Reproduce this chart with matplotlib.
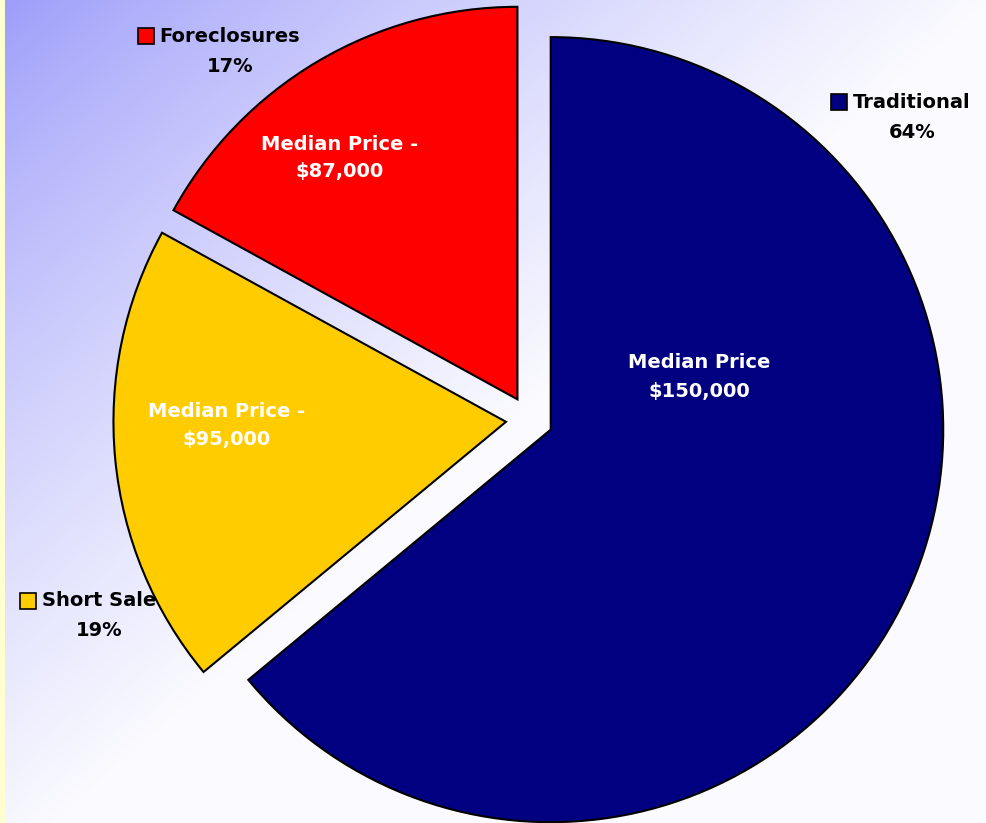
import numpy as np
import matplotlib
matplotlib.use("Agg")
import matplotlib.pyplot as plt
from matplotlib.patches import Rectangle

# ---- data ----
categories = ["Traditional", "Short Sale", "Foreclosures"]
shares = [64, 19, 17]
pct_labels = ["64%", "19%", "17%"]
inner_labels = ["Median Price\n$150,000", "Median Price -\n$95,000", "Median Price -\n$87,000"]
colors = ["#000080", "#FFCC00", "#FF0000"]

W, H = 987, 823
FONT = ["DejaVu Sans"]
FS = 14.0

fig = plt.figure(figsize=(W / 100, H / 100), dpi=100)

# background gradient
bg = fig.add_axes([0, 0, 1, 1])
bg.set_axis_off()
yy, xx = np.mgrid[0:H, 0:W]
t = np.clip((xx / W) * 1.0 + (yy / H) * 0.95, 0, 1) ** 0.8
c0 = np.array([155, 155, 250]) / 255
c1 = np.array([250, 250, 255]) / 255
img = c0[None, None, :] * (1 - t[..., None]) + c1[None, None, :] * t[..., None]
img[:, :5, :] = np.array([255, 255, 208]) / 255
bg.imshow(img, extent=(0, W, H, 0), aspect="auto", interpolation="nearest")
bg.set_xlim(0, W)
bg.set_ylim(H, 0)

ax = fig.add_axes([0, 0, 1, 1])
ax.patch.set_alpha(0)
wedges, _ = ax.pie(shares, colors=colors, startangle=90, counterclock=False,
                   explode=[0.06] * len(shares), radius=1,
                   wedgeprops=dict(edgecolor="black", linewidth=1.5))
ax.set_aspect("auto")
ax.set_xlim(-1.3488, 1.1658)
ax.set_ylim(-1.0277, 1.0690)
ax.set_axis_off()


def fx(px):
    return px / W


def fy(py):
    return 1 - py / H


# inner labels (pixel layout positions)
inner_pos = [(699, 377), (227, 425), (340, 158)]
for lab, (px, py) in zip(inner_labels, inner_pos):
    fig.text(fx(px), fy(py), lab, color="white", fontsize=FS, fontweight="bold",
             family=FONT, ha="center", va="center", multialignment="center",
             linespacing=1.6)

# outer labels
outer_pos = [(912, 102, 133), (99, 601, 631), (230, 36, 66)]
name_texts = []
for name, pct, (px, py1, py2) in zip(categories, pct_labels, outer_pos):
    tn = fig.text(fx(px), fy(py1), name, color="black", fontsize=FS, fontweight="bold",
                  family=FONT, ha="center", va="center")
    fig.text(fx(px), fy(py2), pct, color="black", fontsize=FS, fontweight="bold",
             family=FONT, ha="center", va="center")
    name_texts.append(tn)

fig.canvas.draw()
r = fig.canvas.get_renderer()
for tn, col in zip(name_texts, colors):
    bb = tn.get_window_extent(renderer=r)
    size = 16
    cy = (bb.y0 + bb.y1) / 2
    x0 = bb.x0 - 6 - size
    fig.patches.append(Rectangle((x0 / W, (cy - size / 2) / H), size / W, size / H,
                                 transform=fig.transFigure, facecolor=col,
                                 edgecolor="black", linewidth=1.2))

fig.savefig("out.png", dpi=100)
